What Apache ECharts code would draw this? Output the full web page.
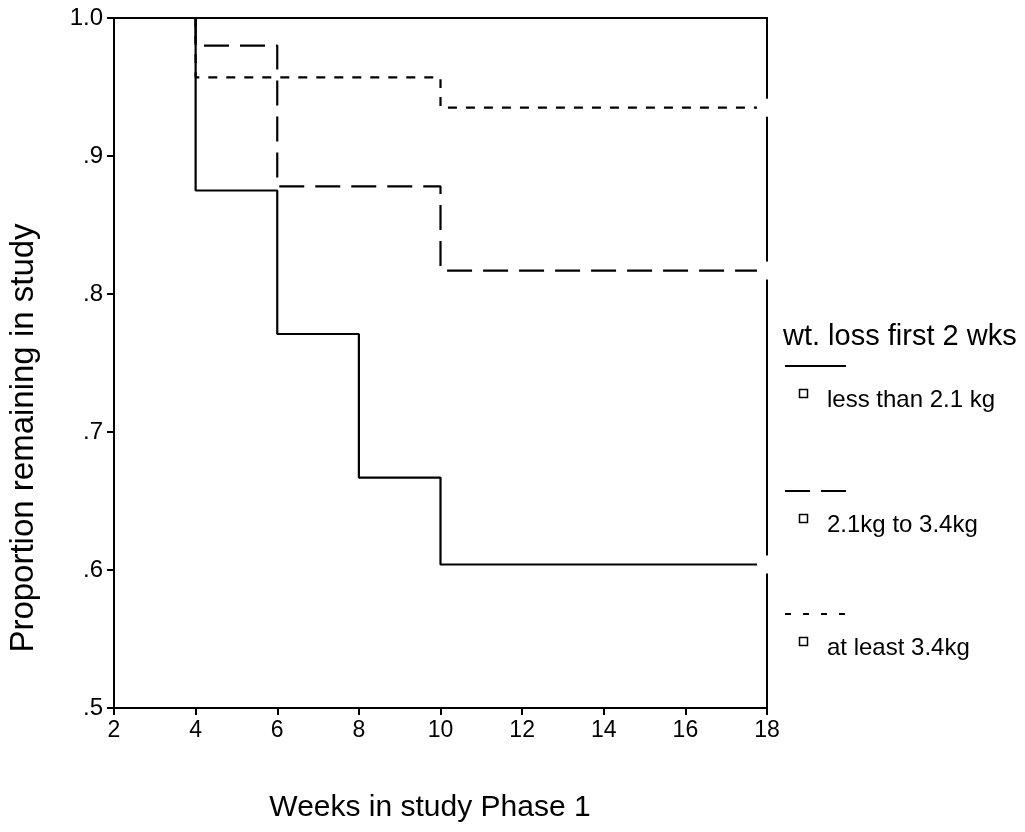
<!DOCTYPE html>
<html>
<head>
<meta charset="utf-8">
<script src="https://cdn.jsdelivr.net/npm/echarts@6/dist/echarts.min.js"></script>
<style>
html,body{margin:0;padding:0;background:#fff;}
#chart{width:1025px;height:832px;}
</style>
</head>
<body>
<div id="chart"></div>
<script>
// ---- data ----
const xTicks = [2, 4, 6, 8, 10, 12, 14, 16, 18];
const yTickLabels = ['.5', '.6', '.7', '.8', '.9', '1.0'];
const seriesNames = ['less than 2.1 kg', '2.1kg to 3.4kg', 'at least 3.4kg'];
const legendTitle = 'wt. loss first 2 wks';
const xTitle = 'Weeks in study Phase 1';
const yTitle = 'Proportion remaining in study';

const lessWeeks = [4, 4, 6, 8, 10, 18];
const lessVals  = [1.0, 0.875, 0.771, 0.667, 0.604, 0.604];
const midWeeks  = [4, 4, 6, 10, 18];
const midVals   = [1.0, 0.980, 0.878, 0.817, 0.817];
const highWeeks = [4, 4, 10, 18];
const highVals  = [1.0, 0.957, 0.935, 0.935];

const FONT = "'Liberation Sans', Arial, Helvetica, sans-serif";
const chart = echarts.init(document.getElementById('chart'), null, {renderer: 'canvas'});

function buildData(weeks, vals) {
  return weeks.map((w, i) => {
    const item = {value: [w, vals[i]]};
    if (i === weeks.length - 1) {
      item.symbol = 'rect';
      item.symbolSize = [20, 18];
      item.itemStyle = {color: '#fff', borderWidth: 0};
    }
    return item;
  });
}

const dashes = ['solid', [25, 11], [9, 9]];
const legendDashes = ['solid', [25, 11], [6, 12]];
const allWeeks = [lessWeeks, midWeeks, highWeeks];
const allVals = [lessVals, midVals, highVals];

const series = seriesNames.map((name, k) => ({
  name: name,
  type: 'line',
  step: 'end',
  symbol: 'none',
  showSymbol: true,
  silent: true,
  animation: false,
  lineStyle: {color: '#000', width: 2.2, type: dashes[k]},
  data: buildData(allWeeks[k], allVals[k]),
  z: 3 + k
}));

// legend and titles as graphic elements
const graphic = [
  {type: 'text', x: 783, y: 337, style: {text: legendTitle, font: '29px ' + FONT, fill: '#000', verticalAlign: 'middle'}},
  {type: 'text', x: 24, y: 438, rotation: Math.PI / 2, style: {text: yTitle, font: '33px ' + FONT, fill: '#000', align: 'center', verticalAlign: 'middle'}},
  {type: 'text', x: 430, y: 808, style: {text: xTitle, font: '30px ' + FONT, fill: '#000', align: 'center', verticalAlign: 'middle'}}
];
const legendY = [366, 491, 614];
seriesNames.forEach((name, k) => {
  graphic.push({type: 'line', shape: {x1: 785, y1: legendY[k], x2: 846, y2: legendY[k]},
    style: {stroke: '#000', lineWidth: 2, lineDash: legendDashes[k] === 'solid' ? null : legendDashes[k]}});
  graphic.push({type: 'rect', shape: {x: 799.5, y: legendY[k] + 23.5, width: 8, height: 8},
    style: {stroke: '#000', fill: '#fff', lineWidth: 1.5}});
  graphic.push({type: 'text', x: 827, y: legendY[k] + 34, style: {text: name, font: '24px ' + FONT, fill: '#000', verticalAlign: 'middle'}});
});

chart.setOption({
  backgroundColor: '#fff',
  animation: false,
  grid: {left: 114, right: 258, top: 18, bottom: 124, show: true, borderColor: '#000', borderWidth: 2, backgroundColor: 'transparent'},
  xAxis: {
    type: 'value', min: xTicks[0], max: xTicks[xTicks.length - 1], interval: 2,
    axisLine: {show: true, lineStyle: {color: '#000', width: 2}},
    axisTick: {show: true, length: 7, lineStyle: {color: '#000', width: 2}},
    axisLabel: {color: '#000', fontSize: 23, fontFamily: FONT, margin: 11},
    splitLine: {show: false}
  },
  yAxis: {
    type: 'value', min: 0.5, max: 1.0, interval: 0.1,
    axisLine: {show: true, lineStyle: {color: '#000', width: 2}},
    axisTick: {show: true, length: 7, lineStyle: {color: '#000', width: 2}},
    axisLabel: {color: '#000', fontSize: 24, fontFamily: FONT, margin: 11,
      formatter: v => yTickLabels[Math.round((v - 0.5) * 10)]},
    splitLine: {show: false}
  },
  graphic: graphic,
  series: series
});
</script>
</body>
</html>
